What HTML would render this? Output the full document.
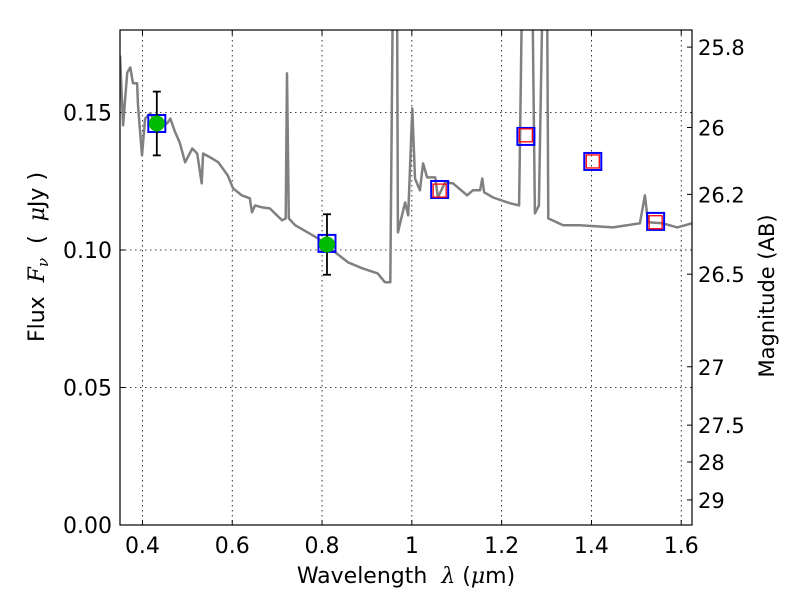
<!DOCTYPE html>
<html><head><meta charset="utf-8"><style>
body{margin:0;background:#fff;font-family:"DejaVu Sans","Liberation Sans",sans-serif}
</style></head><body>
<svg id="c" width="800" height="600" xmlns="http://www.w3.org/2000/svg" font-family="DejaVu Sans, Liberation Sans, sans-serif"></svg>
<script>
const specWl=[0.350,0.357,0.366,0.373,0.379,0.388,0.390,0.399,0.406,0.417,0.428,0.443,0.455,0.462,0.473,0.483,0.495,0.511,0.522,0.532,0.535,0.555,0.569,0.590,0.602,0.621,0.639,0.644,0.651,0.667,0.684,0.695,0.711,0.719,0.722,0.726,0.740,0.768,0.791,0.829,0.858,0.889,0.924,0.940,0.952,0.958,0.967,0.969,0.985,0.992,1.001,1.007,1.018,1.025,1.034,1.052,1.058,1.074,1.092,1.123,1.136,1.152,1.157,1.161,1.181,1.219,1.239,1.246,1.268,1.274,1.283,1.292,1.301,1.304,1.337,1.374,1.448,1.508,1.519,1.526,1.559,1.591,1.624];
const specFlux=[0.1707,0.1453,0.1645,0.1664,0.1606,0.1606,0.1526,0.1344,0.1478,0.1497,0.1464,0.1464,0.1460,0.1478,0.1428,0.1391,0.1319,0.1369,0.1351,0.1242,0.1351,0.1333,0.1319,0.1271,0.1224,0.1199,0.1188,0.1137,0.1162,0.1155,0.1151,0.1133,0.1108,0.1115,0.1642,0.1115,0.1090,0.1064,0.1042,0.0992,0.0955,0.0934,0.0915,0.0883,0.0883,0.2,0.2,0.1064,0.1173,0.1126,0.1515,0.1260,0.1217,0.1315,0.1264,0.1264,0.1191,0.1246,0.1242,0.1199,0.1217,0.1217,0.1260,0.1210,0.1191,0.1170,0.1162,0.2,0.2,0.1133,0.1162,0.2,0.2,0.1115,0.1090,0.1090,0.1082,0.1097,0.1199,0.1101,0.1097,0.1082,0.1097];
const obsWl=[0.432,0.811];
const obsFlux=[0.146,0.102];
const obsErr=[0.0116,0.011];
const bandWl=[0.432,0.811,1.062,1.254,1.403,1.543];
const bandFlux=[0.146,0.1024,0.1220,0.1413,0.1322,0.1104];
const modelWl=[1.062,1.254,1.403,1.543];
const modelFlux=[0.1216,0.1417,0.1322,0.1101];
const xTicks=[0.4,0.6,0.8,1.0,1.2,1.4,1.6];
const xTickLabels=["0.4","0.6","0.8","1","1.2","1.4","1.6"];
const yTicks=[0,0.05,0.10,0.15];
const yTickLabels=["0.00","0.05","0.10","0.15"];
const magTicks=[25.8,26,26.2,26.5,27,27.5,28,29];
const magLabels=["25.8","26","26.2","26.5","27","27.5","28","29"];

const L=120,R=692,T=30,B=525,xmin=0.35,xmax=1.624,ymin=0,ymax=0.18;
const X=v=>L+(v-xmin)/(xmax-xmin)*(R-L);
const Y=v=>B-(v-ymin)/(ymax-ymin)*(B-T);
const svg=document.getElementById('c');
const NS='http://www.w3.org/2000/svg';
function mk(tag,attrs,parent){const e=document.createElementNS(NS,tag);for(const k in attrs)e.setAttribute(k,attrs[k]);(parent||svg).appendChild(e);return e;}
const defs=mk('defs',{});const cp=mk('clipPath',{id:'clip'},defs);mk('rect',{x:L,y:T,width:R-L,height:B-T},cp);

xTicks.forEach((t,i)=>{
  const g=mk('line',{x1:X(t),x2:X(t),y1:T,y2:B,stroke:'#000','stroke-width':0.8,'stroke-dasharray':'1.5,3.5'});
  
  
  mk('line',{x1:X(t),x2:X(t),y1:B,y2:B-5,stroke:'#000'});
  mk('line',{x1:X(t),x2:X(t),y1:T,y2:T+5,stroke:'#000'});
  const tx=mk('text',{x:X(t),y:B+28,'text-anchor':'middle','font-size':22});
  tx.textContent=xTickLabels[i];
  
  
});
yTicks.forEach((t,i)=>{
  if(t>0){const g=mk('line',{x1:L,x2:R,y1:Y(t),y2:Y(t),stroke:'#000','stroke-width':0.8,'stroke-dasharray':'1.5,3.5'});
  
  }
  mk('line',{x1:L,x2:L+5,y1:Y(t),y2:Y(t),stroke:'#000'});
  const tx=mk('text',{x:L-8,y:Y(t)+8,'text-anchor':'end','font-size':22});
  tx.textContent=yTickLabels[i];
  
  
});
magTicks.forEach((m,i)=>{
  const f=Math.pow(10,(23.9-m)/2.5);const y=Y(f);
  mk('line',{x1:R,x2:R-5,y1:y,y2:y,stroke:'#000'});
  const tx=mk('text',{x:R+6,y:y+8,'font-size':21});
  tx.textContent=magLabels[i];
  
  
});

let d=specWl.map((w,i)=>(i?'L':'M')+X(w).toFixed(1)+','+Y(specFlux[i]).toFixed(1)).join('');
const sp=mk('path',{d:d,fill:'none',stroke:'#808080','stroke-width':2.5,'stroke-linejoin':'round','clip-path':'url(#clip)'});



bandWl.forEach((w,i)=>{
  const r=mk('rect',{x:X(w)-8.5,y:Y(bandFlux[i])-8.5,width:17,height:17,fill:'none',stroke:'#0000ff','stroke-width':2});
  
  
});
modelWl.forEach((w,i)=>{
  const r=mk('rect',{x:X(w)-6.5,y:Y(modelFlux[i])-6.5,width:13,height:13,fill:'none',stroke:'#ff0000','stroke-width':1.3});
  
  
});
obsWl.forEach((w,i)=>{
  const x=X(w),y1=Y(obsFlux[i]+obsErr[i]),y2=Y(obsFlux[i]-obsErr[i]);
  const g=mk('g',{stroke:'#000','stroke-width':1.8});
  
  
  mk('line',{x1:x,x2:x,y1:y1,y2:y2},g);mk('line',{x1:x-4,x2:x+4,y1:y1,y2:y1},g);mk('line',{x1:x-4,x2:x+4,y1:y2,y2:y2},g);
  const c=mk('circle',{cx:x,cy:Y(obsFlux[i]),r:8,fill:'#00bb00'});
  
  
});

const fr=mk('rect',{x:L,y:T,width:R-L,height:B-T,fill:'none',stroke:'#000','stroke-width':1.2});



const xl=mk('text',{x:406,y:583,'text-anchor':'middle','font-size':22,'xml:space':'preserve'});
xl.innerHTML='Wavelength&#160;&#160;<tspan font-family="DejaVu Serif, serif" font-style="italic">λ</tspan> (<tspan font-family="DejaVu Serif, serif" font-style="italic">μ</tspan>m)';


const yl=mk('text',{x:0,y:0,'text-anchor':'middle','font-size':22,transform:'translate(44,257) rotate(-90)'});
yl.innerHTML='Flux&#160;&#160;<tspan font-family="DejaVu Serif, serif" font-style="italic">F</tspan><tspan font-family="DejaVu Serif, serif" font-style="italic" font-size="15" dy="4">ν</tspan><tspan dy="-4">&#160;&#160;(&#160;&#160;</tspan><tspan font-family="DejaVu Serif, serif" font-style="italic">μ</tspan>Jy&#160;)';


const ml=mk('text',{x:0,y:0,'text-anchor':'middle','font-size':21,transform:'translate(774,296) rotate(-90)'});
ml.textContent='Magnitude (AB)';


</script>
</body></html>
